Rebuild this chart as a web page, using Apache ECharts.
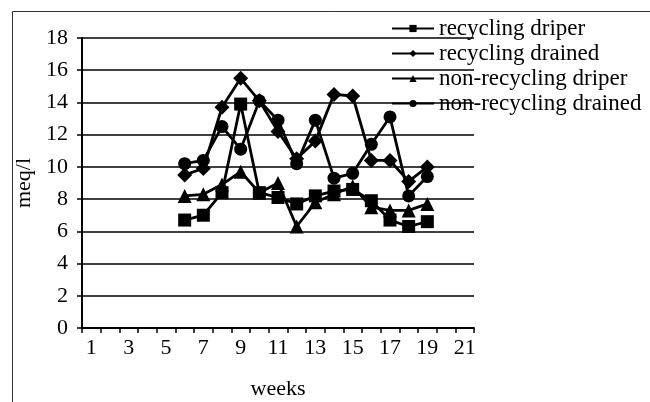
<!DOCTYPE html>
<html>
<head>
<meta charset="utf-8">
<script src="https://cdn.jsdelivr.net/npm/echarts@6/dist/echarts.min.js"></script>
<style>
  html, body { margin: 0; padding: 0; background: #fff; }
  #chart { width: 650px; height: 402px; }
</style>
</head>
<body>
<div id="chart"></div>
<script>
// weeks 1..21 on the x axis
const weeks = ['1', '2', '3', '4', '5', '6', '7', '8', '9', '10', '11', '12', '13', '14', '15', '16', '17', '18', '19', '20', '21']
const yTicks = [0, 2, 4, 6, 8, 10, 12, 14, 16, 18]

// values for weeks 6..19 (weeks 1-5, 20, 21 empty)
const recyclingDriper = [null, null, null, null, null, 6.7, 7.0, 8.4, 13.9, 8.4, 8.1, 7.7, 8.2, 8.5, 8.6, 7.9, 6.7, 6.3, 6.6, null, null]
const recyclingDrained = [null, null, null, null, null, 9.5, 9.9, 13.7, 15.5, 14.1, 12.2, 10.5, 11.6, 14.5, 14.4, 10.4, 10.4, 9.1, 10.0, null, null]
const nonRecyclingDriper = [null, null, null, null, null, 8.2, 8.3, 8.9, 9.7, 8.4, 9.0, 6.3, 7.8, 8.3, 8.8, 7.5, 7.3, 7.3, 7.7, null, null]
const nonRecyclingDrained = [null, null, null, null, null, 10.2, 10.4, 12.5, 11.1, 14.1, 12.9, 10.2, 12.9, 9.3, 9.6, 11.4, 13.1, 8.2, 9.4, null, null]

const font = '"Liberation Serif", "Times New Roman", serif'

const myChart = echarts.init(document.getElementById('chart'))

function lineSeries(name, data, symbol, size) {
  return {
    name: name,
    type: 'line',
    data: data,
    symbol: symbol,
    symbolSize: size,
    showAllSymbol: true,
    connectNulls: false,
    animation: false,
    lineStyle: { color: '#000', width: 2.8 },
    itemStyle: { color: '#000', borderColor: '#000', borderWidth: 0 },
    emphasis: { disabled: true }
  }
}

myChart.setOption({
  animation: false,
  grid: { left: 82, right: 176, top: 38, bottom: 74, outerBoundsMode: 'none', containLabel: false },
  graphic: [
    {
      type: 'rect',
      shape: { x: 12.5, y: 11.5, width: 700, height: 500 },
      style: { fill: 'none', stroke: '#333', lineWidth: 1 },
      silent: true
    }
  ],
  legend: {
    orient: 'vertical',
    left: 386,
    top: 12,
    itemGap: 2,
    itemWidth: 42,
    itemHeight: 9,
    textStyle: { fontFamily: font, fontSize: 23, color: '#000' },
    data: ['recycling driper', 'recycling drained', 'non-recycling driper', 'non-recycling drained']
  },
  xAxis: {
    type: 'category',
    data: weeks,
    boundaryGap: true,
    name: 'weeks',
    nameLocation: 'middle',
    nameGap: 50,
    nameTextStyle: { fontFamily: font, fontSize: 22, color: '#000' },
    axisLine: { lineStyle: { color: '#000', width: 2 } },
    axisTick: { show: true, inside: false, length: 5, interval: 0, lineStyle: { color: '#000', width: 1.5 } },
    axisLabel: { interval: 1, fontFamily: font, fontSize: 22, color: '#000', margin: 9 },
    splitLine: { show: false }
  },
  yAxis: {
    type: 'value',
    min: yTicks[0],
    max: yTicks[yTicks.length - 1],
    interval: 2,
    name: 'meq/l',
    nameLocation: 'middle',
    nameGap: 40,
    nameRotate: 90,
    nameTextStyle: { fontFamily: font, fontSize: 22, color: '#000' },
    axisLine: { show: true, lineStyle: { color: '#000', width: 2 } },
    axisTick: { show: true, length: 5, lineStyle: { color: '#000', width: 1.5 } },
    axisLabel: { fontFamily: font, fontSize: 22, color: '#000', margin: 14 },
    splitLine: { show: true, lineStyle: { color: '#000', width: 1.5 } }
  },
  series: [
    lineSeries('recycling driper', recyclingDriper, 'rect', 13),
    lineSeries('recycling drained', recyclingDrained, 'diamond', 15),
    lineSeries('non-recycling driper', nonRecyclingDriper, 'triangle', 14),
    lineSeries('non-recycling drained', nonRecyclingDrained, 'circle', 13)
  ]
})
</script>
</body>
</html>
